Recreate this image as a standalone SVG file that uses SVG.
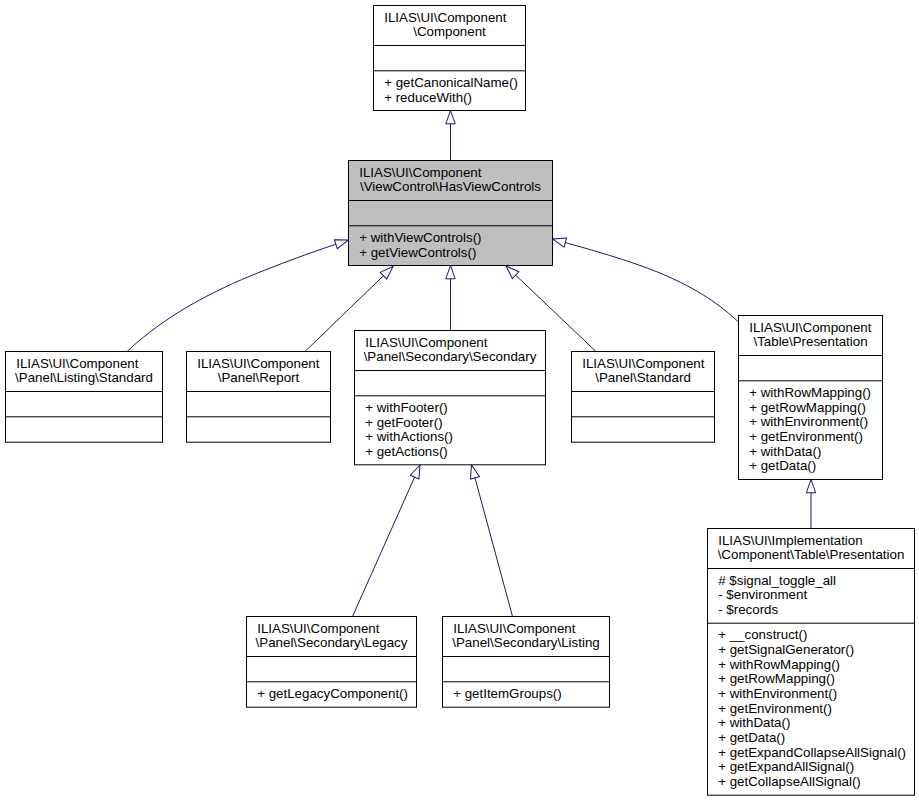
<svg xmlns="http://www.w3.org/2000/svg" width="919" height="801" viewBox="0 0 919 801">
<style>
.box{fill:#ffffff;stroke:#000000;stroke-width:1}
.cur{fill:#bfbfbf;stroke:#000000;stroke-width:1}
.div{stroke:#000000;stroke-width:1;fill:none}
text{font-family:"Liberation Sans",Arial,Helvetica,sans-serif;font-size:13.33px;fill:#000000}
.m{text-anchor:middle}
.edge{fill:none;stroke:#191970;stroke-width:1;marker-end:url(#tri)}
</style>
<defs>
<marker id="tri" markerUnits="userSpaceOnUse" viewBox="-1 -6 15.5 12" refX="13.3" refY="0" markerWidth="15.5" markerHeight="12" orient="auto">
<path d="M0,-4.7 L13.3,0 L0,4.7 Z" fill="#ffffff" stroke="#191970" stroke-width="1"/>
</marker>
</defs>
<rect width="919" height="801" fill="#ffffff"/>
<g id="connectors">
<path class="edge" d="M450.5,160.5 L450.5,110.5"/>
<path class="edge" d="M127,351.5 C165,316 210,292 260,272 C290,260 318,250 348.5,240"/>
<path class="edge" d="M305,351.5 L393,266.5"/>
<path class="edge" d="M450.5,330.5 L450.5,265.5"/>
<path class="edge" d="M596,351.5 L506,266"/>
<path class="edge" d="M738.5,322 C720,305 700,290 660,273 C628,260 592,250 552.5,239"/>
<path class="edge" d="M352.5,616.5 L420,465"/>
<path class="edge" d="M512.5,616.5 L471.5,465"/>
<path class="edge" d="M811,528.5 L811,479.5"/>
</g>
<g id="node-component">
<rect class="box" x="373.5" y="5.5" width="152" height="105"/>
<path class="div" d="M373.5,45.5 H525.5 M373.5,70.8 H525.5"/>
<text x="384.2" y="21.5">ILIAS\UI\Component</text>
<text class="m" x="449.5" y="36.2">\Component</text>
<text x="384.2" y="86.8">+ getCanonicalName()</text>
<text x="384.2" y="101.5">+ reduceWith()</text>
</g>
<g id="node-hasviewcontrols">
<rect class="cur" x="348.5" y="160.5" width="204" height="105"/>
<path class="div" d="M348.5,200.5 H552.5 M348.5,225.8 H552.5"/>
<text x="359.2" y="176.5">ILIAS\UI\Component</text>
<text class="m" x="450.5" y="191.2">\ViewControl\HasViewControls</text>
<text x="359.2" y="241.8">+ withViewControls()</text>
<text x="359.2" y="256.5">+ getViewControls()</text>
</g>
<g id="node-listing-standard">
<rect class="box" x="5.5" y="351.5" width="157" height="90.7"/>
<path class="div" d="M5.5,391.5 H162.5 M5.5,416.8 H162.5"/>
<text x="16.2" y="367.5">ILIAS\UI\Component</text>
<text class="m" x="84" y="382.2">\Panel\Listing\Standard</text>
</g>
<g id="node-report">
<rect class="box" x="186.5" y="351.5" width="144" height="90.7"/>
<path class="div" d="M186.5,391.5 H330.5 M186.5,416.8 H330.5"/>
<text x="197.2" y="367.5">ILIAS\UI\Component</text>
<text class="m" x="258.5" y="382.2">\Panel\Report</text>
</g>
<g id="node-secondary">
<rect class="box" x="354.5" y="330.5" width="191" height="134.3"/>
<path class="div" d="M354.5,370.5 H545.5 M354.5,395.8 H545.5"/>
<text x="365.2" y="346.5">ILIAS\UI\Component</text>
<text class="m" x="450" y="361.2">\Panel\Secondary\Secondary</text>
<text x="365.2" y="411.8">+ withFooter()</text>
<text x="365.2" y="426.5">+ getFooter()</text>
<text x="365.2" y="441.1">+ withActions()</text>
<text x="365.2" y="455.8">+ getActions()</text>
</g>
<g id="node-panel-standard">
<rect class="box" x="571.5" y="351.5" width="143" height="90.7"/>
<path class="div" d="M571.5,391.5 H714.5 M571.5,416.8 H714.5"/>
<text x="582.2" y="367.5">ILIAS\UI\Component</text>
<text class="m" x="643" y="382.2">\Panel\Standard</text>
</g>
<g id="node-table-presentation">
<rect class="box" x="738.5" y="315.5" width="144" height="164"/>
<path class="div" d="M738.5,355.5 H882.5 M738.5,380.8 H882.5"/>
<text x="749.2" y="331.5">ILIAS\UI\Component</text>
<text class="m" x="810.5" y="346.2">\Table\Presentation</text>
<text x="749.2" y="396.8">+ withRowMapping()</text>
<text x="749.2" y="411.5">+ getRowMapping()</text>
<text x="749.2" y="426.1">+ withEnvironment()</text>
<text x="749.2" y="440.8">+ getEnvironment()</text>
<text x="749.2" y="455.5">+ withData()</text>
<text x="749.2" y="470.1">+ getData()</text>
</g>
<g id="node-secondary-legacy">
<rect class="box" x="246.5" y="616.5" width="170" height="90.7"/>
<path class="div" d="M246.5,656.5 H416.5 M246.5,681.8 H416.5"/>
<text x="257.2" y="632.5">ILIAS\UI\Component</text>
<text class="m" x="331.5" y="647.2">\Panel\Secondary\Legacy</text>
<text x="257.2" y="697.8">+ getLegacyComponent()</text>
</g>
<g id="node-secondary-listing">
<rect class="box" x="442.5" y="616.5" width="167" height="90.7"/>
<path class="div" d="M442.5,656.5 H609.5 M442.5,681.8 H609.5"/>
<text x="453.2" y="632.5">ILIAS\UI\Component</text>
<text class="m" x="526" y="647.2">\Panel\Secondary\Listing</text>
<text x="453.2" y="697.8">+ getItemGroups()</text>
</g>
<g id="node-impl-presentation">
<rect class="box" x="707.5" y="528.5" width="207" height="266.7"/>
<path class="div" d="M707.5,568.5 H914.5 M707.5,623.2 H914.5"/>
<text x="718.2" y="544.5">ILIAS\UI\Implementation</text>
<text class="m" x="811" y="559.2">\Component\Table\Presentation</text>
<text x="718.2" y="584.5"># $signal_toggle_all</text>
<text x="718.2" y="599.2">- $environment</text>
<text x="718.2" y="613.8">- $records</text>
<text x="718.2" y="639.2">+ __construct()</text>
<text x="718.2" y="653.9">+ getSignalGenerator()</text>
<text x="718.2" y="668.5">+ withRowMapping()</text>
<text x="718.2" y="683.2">+ getRowMapping()</text>
<text x="718.2" y="697.9">+ withEnvironment()</text>
<text x="718.2" y="712.5">+ getEnvironment()</text>
<text x="718.2" y="727.2">+ withData()</text>
<text x="718.2" y="741.9">+ getData()</text>
<text x="718.2" y="756.5">+ getExpandCollapseAllSignal()</text>
<text x="718.2" y="771.2">+ getExpandAllSignal()</text>
<text x="718.2" y="785.9">+ getCollapseAllSignal()</text>
</g>
</svg>
